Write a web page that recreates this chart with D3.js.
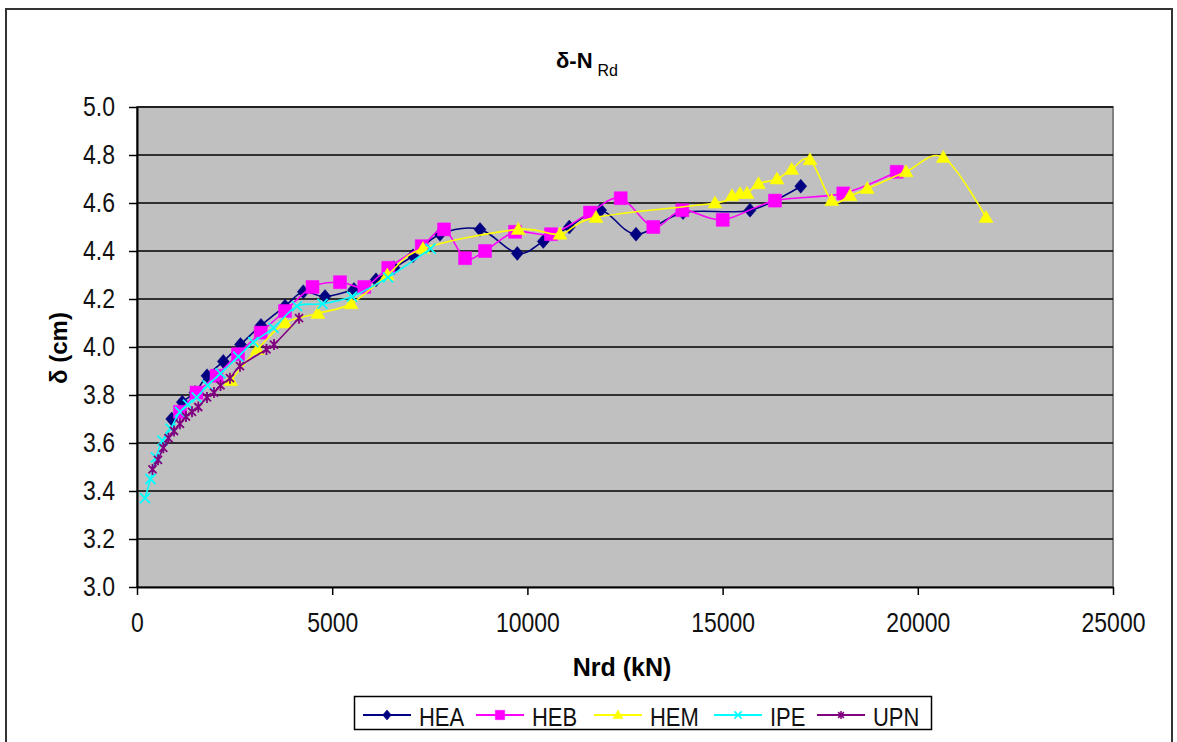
<!DOCTYPE html>
<html><head><meta charset="utf-8">
<script src="https://cdn.jsdelivr.net/npm/d3@7"></script>
<style>body{margin:0;background:#fff}svg{display:block}</style>
</head><body><svg id="c" width="1177" height="742"></svg>
<script>
// ---- data ----
const xTicks = [0, 5000, 10000, 15000, 20000, 25000];
const yTicks = [3.0, 3.2, 3.4, 3.6, 3.8, 4.0, 4.2, 4.4, 4.6, 4.8, 5.0];
const seriesNames = ["HEA", "HEB", "HEM", "IPE", "UPN"];

const heaN = [889,1160,1486,1793,2211,2651,3176,3791,4260,4816,5558,6122,6583,7070,7761,8786,9741,10407,11073,11877,12782,13986,15702,17001];
const heaD = [3.70,3.77,3.81,3.88,3.94,4.01,4.09,4.17,4.23,4.21,4.24,4.28,4.33,4.38,4.47,4.49,4.39,4.44,4.50,4.57,4.47,4.56,4.57,4.67];

const hebN = [1101,1524,2036,2587,3169,3791,4495,5200,5822,6437,7293,7864,8402,8914,9683,10605,11604,12390,13225,13968,15003,16342,18092,19460];
const hebD = [3.73,3.81,3.88,3.97,4.06,4.15,4.25,4.27,4.25,4.33,4.42,4.49,4.37,4.40,4.48,4.47,4.56,4.62,4.50,4.57,4.53,4.61,4.64,4.73];

const hemN = [2400,3082,3791,4631,5482,6412,7326,9767,10835,11757,14805,15241,15446,15625,15920,16393,16770,17239,17795,18263,18706,19698,20653,21747];
const hemD = [3.86,3.99,4.10,4.14,4.18,4.30,4.41,4.49,4.47,4.54,4.60,4.63,4.64,4.64,4.68,4.70,4.74,4.78,4.61,4.63,4.66,4.73,4.79,4.54];

const ipeN = [205,346,487,653,858,1101,1306,1529,1806,2139,2595,2979,3496,4098,4752,5507,6429,7518];
const ipeD = [3.37,3.45,3.54,3.61,3.66,3.73,3.76,3.79,3.84,3.89,3.96,4.02,4.08,4.17,4.18,4.21,4.29,4.41];

const upnN = [397,538,674,807,948,1101,1255,1409,1570,1793,1972,2139,2382,2638,3317,3509,4150];
const upnD = [3.49,3.53,3.58,3.62,3.65,3.68,3.71,3.73,3.75,3.79,3.81,3.84,3.87,3.92,3.99,4.01,4.12];

// ---- styles ----
const colors = {HEA:"#000080", HEB:"#FF00FF", HEM:"#FFFF00", IPE:"#00FFFF", UPN:"#800080"};
const markerPaths = {
  HEA: s => `M0,${-7*s}L${6*s},0L0,${7*s}L${-6*s},0Z`,
  HEB: s => `M${-6.5*s},${-6.5*s}h${13*s}v${13*s}h${-13*s}Z`,
  HEM: s => `M0,${-7*s}L${7*s},${5*s}L${-7*s},${5*s}Z`,
  IPE: s => `M${-5*s},${-5*s}L${5*s},${5*s}M${-5*s},${5*s}L${5*s},${-5*s}`,
  UPN: s => `M${-4*s},${-4*s}L${4*s},${4*s}M${-4*s},${4*s}L${4*s},${-4*s}M0,${-5.5*s}L0,${5.5*s}`
};
const filled = {HEA:true, HEB:true, HEM:true, IPE:false, UPN:false};

const series = [
  {name:"HEA", n:heaN, d:heaD},
  {name:"HEB", n:hebN, d:hebD},
  {name:"HEM", n:hemN, d:hemD},
  {name:"IPE", n:ipeN, d:ipeD},
  {name:"UPN", n:upnN, d:upnD}
];

const FONT = "'Liberation Sans', Arial, sans-serif";
const svg = d3.select("#c");

// outer chart border
svg.append("rect").attr("x",6).attr("y",9).attr("width",1166).attr("height",745)
  .attr("fill","#fff").attr("stroke","#333").attr("stroke-width",2);

const L = 137, R = 1113, T = 107, B = 587;
const x = d3.scaleLinear().domain([0,25000]).range([L,R]);
const y = d3.scaleLinear().domain([3.0,5.0]).range([B,T]);

// plot area
svg.append("rect").attr("x",L).attr("y",T).attr("width",R-L).attr("height",B-T)
  .attr("fill","#C0C0C0").attr("stroke","#808080").attr("stroke-width",2);

// gridlines
svg.append("g").selectAll("line").data(yTicks.slice(1)).join("line")
  .attr("x1",L).attr("x2",R).attr("y1",d=>y(d)).attr("y2",d=>y(d))
  .attr("stroke","#000").attr("stroke-width",1.6);

// axes
const gx = svg.append("g").attr("transform",`translate(0,${B})`)
  .call(d3.axisBottom(x).tickValues(xTicks).tickSize(8).tickSizeOuter(0).tickFormat(d3.format("d")));
const gy = svg.append("g").attr("transform",`translate(${L},0)`)
  .call(d3.axisLeft(y).tickValues(yTicks).tickSize(8).tickSizeOuter(0).tickFormat(d3.format(".1f")));
[gx,gy].forEach(g=>{
  g.select(".domain").attr("stroke","#000").attr("stroke-width",2);
  g.selectAll(".tick line").attr("stroke","#000").attr("stroke-width",1.5);
  g.selectAll("text").attr("font-family",FONT).attr("font-size",23).attr("fill","#111");
});
gx.selectAll("text").attr("y",37.5).attr("dy",0).attr("transform","scale(1,1.2)");
gy.selectAll("text").attr("x",-22).attr("dy","0.3em").attr("transform","scale(1,1.2)");

// series lines
const line = d3.line().x(p=>x(p[0])).y(p=>y(p[1])).curve(d3.curveCatmullRom.alpha(0));
series.forEach(s=>{
  const pts = s.n.map((v,i)=>[v,s.d[i]]);
  svg.append("path").datum(pts).attr("d",line).attr("fill","none")
    .attr("stroke",colors[s.name]).attr("stroke-width",1.6);
  svg.append("g").selectAll("path").data(pts).join("path")
    .attr("transform",p=>`translate(${x(p[0])},${y(p[1])})`)
    .attr("d",markerPaths[s.name](1))
    .attr("fill",filled[s.name]?colors[s.name]:"none")
    .attr("stroke",colors[s.name]).attr("stroke-width",filled[s.name]?0.5:1.8);
});

// title
const title = svg.append("text").attr("x",556).attr("y",68)
  .attr("font-family",FONT).attr("font-weight","bold").attr("font-size",22).attr("fill","#000");
title.append("tspan").text("δ-N");
title.append("tspan").attr("dx",5).attr("dy",8).attr("font-size",16).attr("font-weight","normal").text("Rd");

// axis titles
svg.append("text").attr("transform","translate(67,348) rotate(-90)").attr("text-anchor","middle")
  .attr("font-family",FONT).attr("font-weight","bold").attr("font-size",24).text("δ (cm)");
svg.append("text").attr("x",622).attr("y",676).attr("text-anchor","middle")
  .attr("font-family",FONT).attr("font-weight","bold").attr("font-size",25).text("Nrd (kN)");

// legend
const lg = svg.append("g");
lg.append("rect").attr("x",354.5).attr("y",696.5).attr("width",577).attr("height",33)
  .attr("fill","#fff").attr("stroke","#000").attr("stroke-width",1.5);
const legendStart = [363, 476, 594, 714, 817];
seriesNames.forEach((nm,i)=>{
  const x0 = legendStart[i], ly = 715;
  lg.append("line").attr("x1",x0).attr("x2",x0+48).attr("y1",ly).attr("y2",ly)
    .attr("stroke",colors[nm]).attr("stroke-width",1.8);
  lg.append("path").attr("transform",`translate(${x0+24},${ly})`).attr("d",markerPaths[nm](0.72))
    .attr("fill",filled[nm]?colors[nm]:"none").attr("stroke",colors[nm]).attr("stroke-width",filled[nm]?0.5:1.5);
  lg.append("text").attr("x",x0+56).attr("y",605).attr("transform","scale(1,1.2)")
    .attr("font-family",FONT).attr("font-size",22).attr("fill","#111").text(nm);
});
</script></body></html>
